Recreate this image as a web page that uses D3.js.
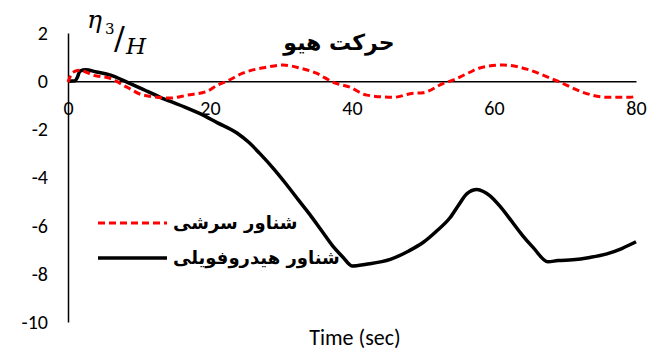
<!DOCTYPE html>
<html><head><meta charset="utf-8">
<script src="https://cdn.jsdelivr.net/npm/d3@7"></script>
<style>body{margin:0;background:#fff}svg{display:block}</style>
</head><body>
<svg id="c" width="649" height="352"></svg>
<script>
const seriesNames = ["شناور سرشی", "شناور هیدروفویلی"];
const title = "حرکت هیو";
const xLabel = "Time (sec)";
const xTicks = [0, 20, 40, 60, 80];
const yTicks = [2, 0, -2, -4, -6, -8, -10];
const redT = [0,0.7,1.7,3.5,5.9,8.3,10.6,14.4,16.8,19.6,21,22.4,24.6,28,30.3,32.7,35,37.3,39.7,42.1,45.8,48.6,50,52.8,54.2,56.6,58,61.3,64.6,66.9,69.3,72.5,75.9,79.2,80];
const redV = [-0.04,0.37,0.45,0.25,0.12,-0.25,-0.58,-0.7,-0.58,-0.42,-0.17,0,0.33,0.58,0.67,0.54,0.33,-0.04,-0.25,-0.58,-0.67,-0.5,-0.48,-0.1,0.04,0.37,0.55,0.67,0.5,0.25,-0.04,-0.46,-0.67,-0.67,-0.62];
const blackT = [0,1,1.3,1.7,2.5,4,6,8.3,10.5,13,15.8,18.6,21,23.8,25.5,27,29,30.8,32.5,34.1,35.7,37.3,38.7,40,42,45.4,48,50,52,53.8,55,56.2,57.6,58.5,59.4,61,62.7,64,65.5,67.6,69,71.1,73.5,75.9,78,80];
const blackV = [0,0.02,0.15,0.42,0.47,0.38,0.25,-0.04,-0.33,-0.67,-1.0,-1.35,-1.72,-2.15,-2.55,-3.0,-3.65,-4.3,-4.95,-5.55,-6.2,-6.85,-7.3,-7.67,-7.6,-7.4,-7.05,-6.7,-6.2,-5.67,-5.15,-4.67,-4.5,-4.58,-4.75,-5.25,-5.9,-6.4,-6.9,-7.5,-7.45,-7.42,-7.32,-7.17,-6.95,-6.67];

const svg = d3.select("#c");
const x = d3.scaleLinear().domain([0, 80]).range([68, 636]);
const y = d3.scaleLinear().domain([-10, 2]).range([322, 33]);
const tickFont = "Carlito, 'Open Sans', 'Liberation Sans', sans-serif";
const fmt = d => String(d);

// y axis
const yAxis = d3.axisLeft(y).tickValues(yTicks).tickSize(0).tickPadding(20).tickFormat(fmt);
const gy = svg.append("g").attr("transform", `translate(${x(0)},0)`).call(yAxis);
gy.select(".domain").attr("stroke", "#000").attr("stroke-width", 1.5);
gy.selectAll("text").attr("font-family", tickFont).attr("font-size", 20).attr("fill", "#000");

// x axis at zero
const xAxis = d3.axisBottom(x).tickValues(xTicks).tickSize(0).tickPadding(20).tickFormat(fmt);
const gx = svg.append("g").attr("transform", `translate(0,${y(0)})`).call(xAxis);
gx.select(".domain").attr("stroke", "#000").attr("stroke-width", 1.5);
gx.selectAll("text").attr("font-family", tickFont).attr("font-size", 20).attr("fill", "#000");

// lines
const redData = redT.map((t, i) => [t, redV[i]]);
const blackData = blackT.map((t, i) => [t, blackV[i]]);
const line = d3.line().x(d => x(d[0])).y(d => y(d[1])).curve(d3.curveMonotoneX);
svg.append("path").datum(blackData).attr("d", line).attr("fill", "none").attr("stroke", "#000").attr("stroke-width", 3.5).attr("stroke-linejoin", "round");
svg.append("path").datum(redData).attr("d", line).attr("fill", "none").attr("stroke", "#ff0000").attr("stroke-width", 3).attr("stroke-dasharray", "7,4");

// title
svg.append("text").attr("x", 339).attr("y", 50).attr("text-anchor", "middle")
  .attr("font-family", "'DejaVu Sans', sans-serif").attr("font-weight", "bold").attr("font-size", 22).text(title);

// y label eta3/H
const yl = svg.append("g").attr("font-family", "'DejaVu Serif', 'Liberation Serif', serif").attr("fill", "#000");
yl.append("text").attr("x", 87).attr("y", 28).attr("font-size", 25).attr("font-style", "italic").text("η");
yl.append("text").attr("x", 105).attr("y", 34).attr("font-size", 15).text("3");
yl.append("text").attr("x", 114).attr("y", 49).attr("font-size", 32).text("/");
yl.append("text").attr("x", 126).attr("y", 54).attr("font-size", 23).attr("font-style", "italic").text("H");

// x label
svg.append("text").attr("x", 355).attr("y", 345).attr("text-anchor", "middle")
  .attr("font-family", tickFont).attr("font-size", 22).text(xLabel);

// legend
const leg = [{name: seriesNames[0], color: "#ff0000", dash: "7,4", w: 3, y: 223},
             {name: seriesNames[1], color: "#000", dash: null, w: 3.5, y: 258}];
leg.forEach(l => {
  svg.append("line").attr("x1", 98).attr("x2", 167).attr("y1", l.y).attr("y2", l.y)
    .attr("stroke", l.color).attr("stroke-width", l.w).attr("stroke-dasharray", l.dash);
  svg.append("text").attr("x", 173).attr("y", l.y + 6).attr("font-family", "'DejaVu Sans', sans-serif")
    .attr("font-weight", "bold").attr("font-size", 18).text(l.name);
});
</script>
</body></html>
